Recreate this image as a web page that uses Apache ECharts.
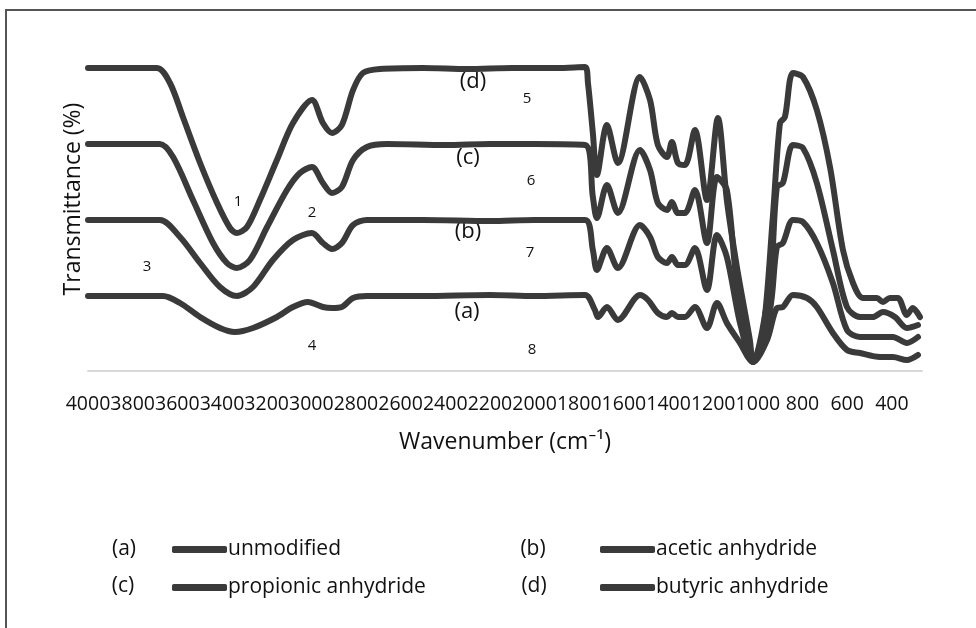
<!DOCTYPE html>
<html>
<head>
<meta charset="utf-8">
<script src="https://cdn.jsdelivr.net/npm/echarts@6/dist/echarts.min.js"></script>
<style>
  html, body { margin: 0; padding: 0; background: #fff; }
  #chart { width: 976px; height: 628px; }
</style>
</head>
<body>
<div id="chart"></div>
<script>
// wavenumber (cm-1), transmittance (offset, arbitrary units)
const unmodified = [
  [4000, 75], [3664, 75], [3588, 68], [3498, 54], [3409, 43], [3342, 39], [3261, 43],
  [3154, 54], [3082, 64], [3015, 69], [2948, 64], [2907, 63], [2863, 64], [2813, 73],
  [2751, 75], [2500, 75], [2200, 76], [2000, 75], [1774, 76], [1730, 61], [1716, 54],
  [1676, 64], [1627, 51], [1528, 76], [1492, 71], [1448, 58], [1407, 54], [1385, 58],
  [1358, 54], [1327, 54], [1282, 64], [1228, 43], [1183, 68], [1139, 48], [1080, 28],
  [1022, 9], [959, 31], [915, 63], [888, 64], [843, 76], [780, 73], [736, 64],
  [664, 38], [601, 21], [543, 18], [453, 14], [395, 14], [333, 11], [283, 16]
]
const acetic = [
  [4000, 151], [3678, 151], [3588, 134], [3498, 108], [3409, 84], [3333, 75], [3261, 84],
  [3172, 111], [3082, 131], [2997, 138], [2948, 128], [2907, 122], [2863, 128], [2813, 146],
  [2751, 151], [2500, 151], [2200, 150], [2000, 151], [1774, 151], [1739, 121], [1721, 101],
  [1676, 123], [1627, 103], [1528, 146], [1483, 134], [1448, 114], [1407, 108], [1385, 114],
  [1358, 106], [1327, 106], [1282, 123], [1228, 81], [1183, 136], [1139, 114], [1080, 48],
  [1022, 9], [946, 61], [915, 124], [888, 128], [843, 151], [798, 149], [736, 128],
  [664, 88], [601, 41], [543, 34], [453, 34], [395, 34], [333, 28], [283, 34]
]
const propionic = [
  [4000, 227], [3678, 227], [3619, 214], [3530, 171], [3440, 128], [3378, 108], [3333, 103],
  [3275, 111], [3198, 144], [3109, 181], [3051, 198], [2997, 204], [2948, 188], [2907, 178],
  [2863, 184], [2813, 211], [2751, 224], [2661, 227], [2400, 226], [2200, 227], [2000, 227],
  [1774, 226], [1739, 174], [1721, 153], [1676, 186], [1627, 158], [1528, 221], [1483, 201],
  [1448, 168], [1407, 161], [1385, 169], [1358, 158], [1327, 158], [1282, 181], [1228, 128],
  [1183, 194], [1139, 181], [1094, 88], [1022, 9], [946, 88], [915, 184], [888, 188],
  [843, 226], [798, 223], [736, 188], [664, 121], [601, 64], [543, 54], [485, 54],
  [440, 59], [386, 54], [333, 43], [283, 46]
]
const butyric = [
  [4000, 303], [3691, 303], [3633, 288], [3575, 254], [3498, 208], [3422, 168], [3364, 143],
  [3333, 138], [3288, 144], [3230, 171], [3154, 211], [3082, 248], [2997, 271], [2948, 248],
  [2907, 238], [2863, 246], [2813, 281], [2769, 298], [2692, 302], [2500, 303], [2300, 302],
  [2100, 303], [1900, 303], [1774, 304], [1761, 288], [1739, 238], [1721, 196], [1676, 246],
  [1627, 208], [1528, 294], [1483, 271], [1448, 226], [1407, 214], [1385, 229], [1358, 208],
  [1327, 206], [1282, 241], [1228, 171], [1179, 253], [1139, 171], [1094, 104], [1036, 31],
  [1022, 9], [977, 38], [933, 154], [901, 248], [879, 254], [843, 298], [798, 294],
  [736, 261], [677, 204], [619, 121], [574, 88], [530, 73], [467, 73], [440, 69],
  [409, 73], [373, 73], [333, 56], [306, 63], [274, 54]
]
const xTicks = [4000, 3800, 3600, 3400, 3200, 3000, 2800, 2600, 2400, 2200, 2000, 1800, 1600, 1400, 1200, 1000, 800, 600, 400]

// peak numbers and curve letters drawn on the plot
const peakLabels = [
  ['1', 238, 202], ['2', 312, 213], ['3', 147, 267], ['4', 312, 346],
  ['5', 527, 99], ['6', 531, 181], ['7', 530, 253], ['8', 532, 350]
]
const curveLetters = [['(d)', 473, 82], ['(c)', 468, 158], ['(b)', 468, 232], ['(a)', 467, 312]]
const legendLetters = [['(a)', 124, 549], ['(b)', 533, 549], ['(c)', 123, 586], ['(d)', 534, 586]]

const font = '"Open Sans", "Noto Sans", sans-serif'
const lineColor = '#3a3a3a'

const chart = echarts.init(document.getElementById('chart'))

function curve(name, data) {
  return {
    name,
    type: 'line',
    data,
    smooth: 0.3,
    symbol: 'none',
    silent: true,
    lineStyle: { color: lineColor, width: 6, cap: 'round', join: 'round' },
    itemStyle: { color: lineColor },
  }
}

function text(t, x, y, size, extra) {
  return Object.assign({
    type: 'text',
    x, y,
    silent: true,
    style: {
      text: t, fill: '#111', font: size + 'px ' + font,
      align: 'center', verticalAlign: 'middle',
    },
  }, extra)
}

const legendBase = {
  orient: 'vertical',
  top: 539,
  padding: 0,
  itemWidth: 55,
  itemHeight: 7,
  itemGap: 17,
  icon: 'roundRect',
  selectedMode: false,
  textStyle: { fontFamily: font, fontSize: 21, color: '#111', padding: [0, 0, 0, -4] },
}

chart.setOption({
  backgroundColor: '#fff',
  animation: false,
  grid: { left: 88, right: 54, top: 51, bottom: 257 },
  xAxis: {
    type: 'value',
    inverse: true,
    min: 265,
    max: 4000,
    name: 'Wavenumber (cm⁻¹)',
    nameLocation: 'middle',
    nameGap: 60,
    nameTextStyle: { fontFamily: font, fontSize: 23, color: '#111' },
    axisLine: { lineStyle: { color: '#d9d9d9', width: 2 } },
    axisTick: { show: false },
    splitLine: { show: false },
    axisLabel: {
      customValues: xTicks,
      showMinLabel: true,
      showMaxLabel: true,
      hideOverlap: false,
      formatter: (v) => String(v),
      margin: 23,
      fontFamily: font,
      fontSize: 19.5,
      color: '#111',
    },
  },
  yAxis: {
    type: 'value',
    min: 0,
    max: 320,
    axisLine: { show: false },
    axisTick: { show: false },
    axisLabel: { show: false },
    splitLine: { show: false },
  },
  legend: [
    Object.assign({ left: 172, data: ['unmodified', 'propionic anhydride'] }, legendBase),
    Object.assign({ left: 600, data: ['acetic anhydride', 'butyric anhydride'] }, legendBase),
  ],
  graphic: [
    {
      type: 'rect',
      silent: true,
      shape: { x: 6, y: 10, width: 1000, height: 700 },
      style: { fill: 'none', stroke: '#555', lineWidth: 2 },
    },
    text('Transmittance (%)', 73, 199, 23, { rotation: Math.PI / 2 }),
    ...peakLabels.map(([t, x, y]) => text(t, x, y, 15)),
    ...curveLetters.map(([t, x, y]) => text(t, x, y, 22)),
    ...legendLetters.map(([t, x, y]) => text(t, x, y, 21)),
  ],
  series: [
    curve('unmodified', unmodified),
    curve('acetic anhydride', acetic),
    curve('propionic anhydride', propionic),
    curve('butyric anhydride', butyric),
  ],
})
</script>
</body>
</html>
